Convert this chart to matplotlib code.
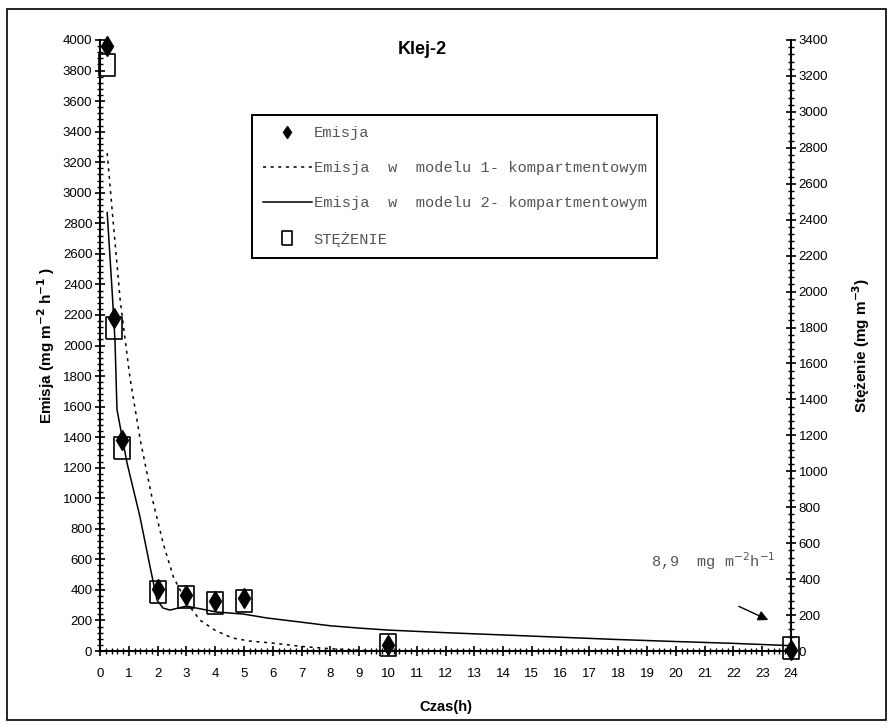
import matplotlib.pyplot as plt
import numpy as np
from matplotlib.patches import Rectangle
from matplotlib.ticker import MultipleLocator

# measured emission (left axis)
t_emisja = [0.25, 0.5, 0.75, 2, 3, 4, 5, 10, 24]
emisja = [3960, 2180, 1380, 405, 365, 330, 345, 40, 8.9]

# concentration (right axis)
t_stez = [0.25, 0.5, 0.75, 2, 3, 4, 5, 10, 24]
stezenie = [3260, 1800, 1130, 330, 300, 268, 278, 33, 15]

# 1-compartment model
t_model1 = [0.25, 0.42, 0.7, 1.04, 1.4, 1.8, 2.2, 2.55, 3.0, 3.47, 4.0, 4.6, 5.2, 6.0, 7.0, 8.0, 9.0, 9.7]
model1 = [3260, 2890, 2300, 1790, 1380, 1010, 700, 484, 320, 203, 135, 85, 65, 52, 30, 15, 5, 0]

# 2-compartment model
t_model2 = [0.25, 0.42, 0.52, 0.59, 0.94, 1.39, 1.74, 1.98, 2.19, 2.43, 3.0, 4.05, 4.97, 5.8, 6.94,
            8, 9, 10, 12, 14, 16, 18, 20, 22, 24]
model2 = [2870, 2360, 2035, 1580, 1230, 877, 550, 334, 281, 268, 294, 255, 242, 216, 190,
          165, 150, 137, 120, 105, 90, 75, 62, 50, 35]

tick_family = 'Liberation Sans'
tick_size = 9.5

# tall open rectangle used for the concentration points
tall_box = [(-0.72, -1), (0.72, -1), (0.72, 1), (-0.72, 1), (-0.72, -1)]

fig = plt.figure(figsize=(8.93, 7.28), dpi=100)
fig.patches.append(Rectangle((7 / 893, 8 / 728), 879 / 893, 711 / 728, transform=fig.transFigure,
                             fill=False, edgecolor='black', linewidth=1.2))

ax = fig.add_axes([100 / 893, 1 - 651 / 728, 691 / 893, 611 / 728])
ax2 = ax.twinx()
ax.set_zorder(ax2.get_zorder() + 1)
ax.patch.set_visible(False)

ax.plot(t_model1, model1, linestyle=(0, (2, 3)), color='black', linewidth=1.1,
        label='Emisja  w  modelu 1- kompartmentowym')
ax.plot(t_model2, model2, linestyle='-', color='black', linewidth=1.1,
        label='Emisja  w  modelu 2- kompartmentowym')
ax.plot(t_emisja, emisja, linestyle='none', marker='d', markersize=10, color='black',
        label='Emisja', clip_on=False)
sq, = ax2.plot(t_stez, stezenie, linestyle='none', marker=tall_box, markersize=16, markerfacecolor='none',
               markeredgecolor='black', markeredgewidth=1.2, label='STĘŻENIE', clip_on=False)

ax.set_xlim(0, 24)
ax.set_ylim(0, 4000)
ax2.set_ylim(0, 3400)

ax.spines['top'].set_visible(False)
ax.spines['right'].set_visible(False)
ax2.spines['top'].set_visible(False)
ax2.spines['left'].set_visible(False)
ax2.spines['bottom'].set_visible(False)

ax.xaxis.set_major_locator(MultipleLocator(1))
ax.xaxis.set_minor_locator(MultipleLocator(0.2))
ax.yaxis.set_major_locator(MultipleLocator(200))
ax.yaxis.set_minor_locator(MultipleLocator(40))
ax2.yaxis.set_major_locator(MultipleLocator(200))
ax2.yaxis.set_minor_locator(MultipleLocator(40))

ax.tick_params(axis='both', which='major', direction='inout', length=7, width=1.2, pad=2)
ax.tick_params(axis='both', which='minor', direction='inout', length=4, width=1)
ax2.tick_params(axis='y', which='major', direction='inout', length=7, width=1.2, pad=2)
ax2.tick_params(axis='y', which='minor', direction='inout', length=4, width=1)
for a in (ax, ax2):
    for lab in a.get_xticklabels() + a.get_yticklabels():
        lab.set_fontfamily(tick_family)
        lab.set_fontsize(tick_size)
ax.tick_params(axis='x', pad=9)

for sp in ('left', 'bottom'):
    ax.spines[sp].set_linewidth(1.5)
ax2.spines['right'].set_linewidth(1.5)

ax.set_xlabel('Czas(h)', fontfamily='Liberation Sans', fontweight='bold', fontsize=10.5, labelpad=14)
ax.set_ylabel('Emisja (mg m$^{\\mathbf{-2}}$ h$^{\\mathbf{-1}}$ )', fontfamily='Liberation Sans',
              fontweight='bold', fontsize=11, labelpad=4)
ax2.set_ylabel('Stężenie (mg m$^{\\mathbf{-3}}$)', fontfamily='Liberation Sans', fontweight='bold',
               fontsize=11, labelpad=16)

ax.text(0.466, 0.984, 'Klej-2', transform=ax.transAxes, ha='center', va='center',
        fontfamily='Liberation Sans', fontweight='bold', fontsize=13)

ax.annotate('', xy=(23.3, 195), xytext=(22.1, 300),
            arrowprops=dict(arrowstyle='-|>', color='black', linewidth=1, mutation_scale=15))
ax.text(21.3, 585, '8,9  mg m$^{-2}$h$^{-1}$', ha='center', va='center',
        fontfamily='Liberation Mono', fontsize=11, color='#555555')

handles, labels = ax.get_legend_handles_labels()
order = [2, 0, 1]
handles = [handles[i] for i in order] + [sq]
labels = [labels[i] for i in order] + ['STĘŻENIE']
leg = ax.legend(handles, labels, loc='upper left', bbox_to_anchor=(0.22, 0.877), borderaxespad=0,
                fancybox=False, edgecolor='black', framealpha=1, handlelength=3.2, labelspacing=1.38,
                borderpad=0.7, handletextpad=0.1, markerscale=0.6,
                prop={'family': 'Liberation Mono', 'size': 11.1})
leg.get_frame().set_linewidth(1.4)
for txt in leg.get_texts():
    txt.set_color('#555555')

fig.savefig('out.png', dpi=100)
